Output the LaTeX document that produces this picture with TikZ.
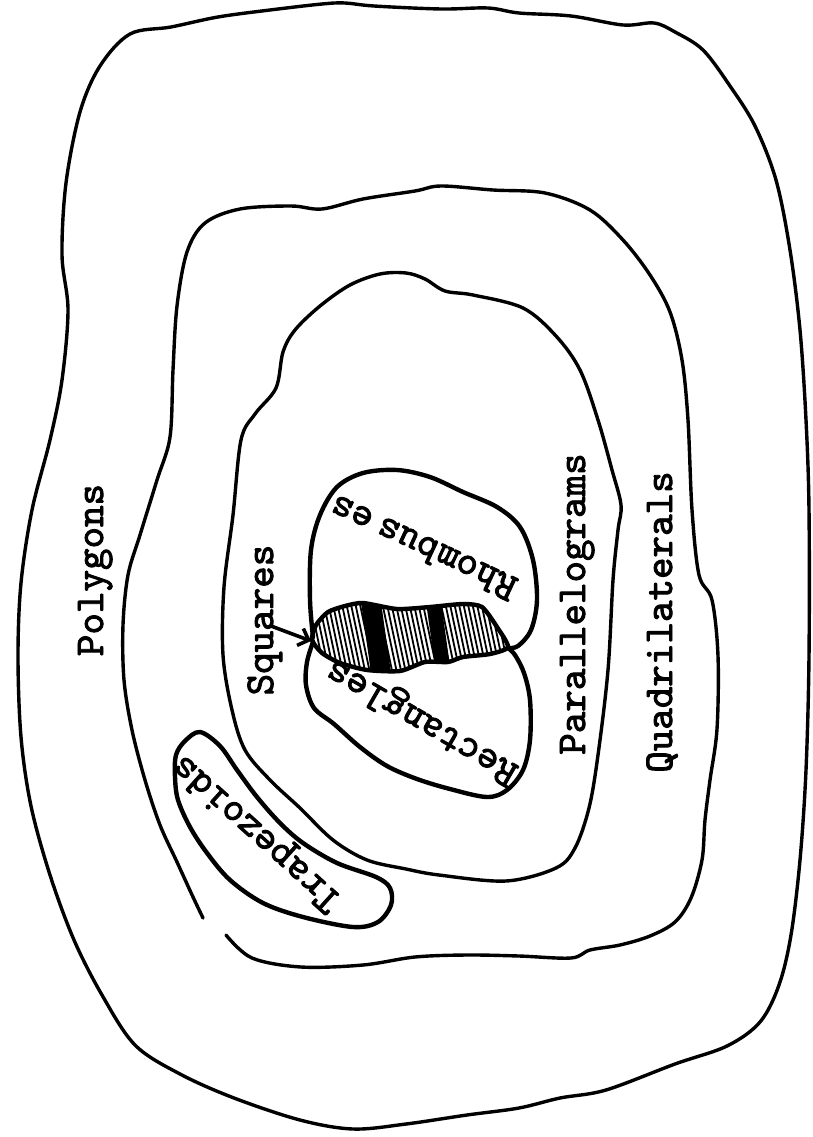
\documentclass[tikz,border=0pt]{standalone}
\usepackage{fontspec}
\newfontfamily\twfont{lmmono10-regular.otf}[FakeBold=2.2]
\usetikzlibrary{arrows.meta}
\begin{document}
\begin{tikzpicture}[x=1pt,y=-1pt,
  rim/.style={line width=3.4pt, line join=round, line cap=round},
  blob/.style={line width=4.4pt, line join=round, line cap=round},
  lab/.style={font=\twfont\fontsize{41}{41}\selectfont, inner sep=0pt},
  hatch/.style={line width=1.8pt}]
\useasboundingbox (0,0) rectangle (812,1137);

% Polygons (outer)
\draw[rim] plot[smooth cycle, tension=0.55] coordinates {
(130,34) (171,27) (218,17) (270,10) (322,4) (345,3) (374,6) (441,9) (488,8) (519,13) (571,16) (623,25) (654,23) (675,32) (703,50) (730,86) (755,126) (776,180) (790,250) (800,330) (806,420) (809,510) (809,656) (806,770) (800,860) (791,935) (779,985) (760,1022) (727,1046) (675,1064) (606,1090) (560,1098) (519,1108) (467,1115) (406,1124) (353,1129) (300,1120) (234,1098) (180,1074) (135,1045) (102,995) (74,940) (50,875) (31,806) (21,737) (18,656) (21,583) (32,510) (50,440) (62,380) (68,310) (62,255) (66,183) (80,112) (100,66)};

% Quadrilaterals (open at lower left)
\draw[rim] plot[smooth, tension=0.55] coordinates {
(203,918) (193,897) (177,862) (160,825) (145,780) (132,730) (124,680) (123,625) (128,575) (140,535) (157,480) (170,437) (173,370) (177,306) (187,252) (205,223) (240,209) (291,206) (322,209) (363,199) (415,191) (441,186) (493,190) (545,193) (590,210) (623,240) (650,275) (670,312) (682,360) (688,420) (692,510) (699,575) (712,600) (718,656) (717,729) (710,780) (705,820) (702,860) (691,898) (675,922) (650,936) (620,945) (590,950) (571,958) (519,956) (467,955) (415,957) (363,965) (301,967) (252,958) (226,935)};

% Parallelograms
\draw[rim] plot[smooth cycle, tension=0.55] coordinates {
(283,352) (295,330) (320,306) (350,285) (380,274) (406,273) (425,279) (445,291) (473,295) (523,308) (556,336) (580,370) (598,420) (612,470) (621,505) (618,530) (613,580) (608,670) (598,755) (589,808) (575,848) (556,868) (506,881) (439,875) (406,869) (367,860) (333,840) (300,808) (270,780) (245,750) (232,710) (223,655) (224,587) (233,515) (241,440) (255,414) (276,388)};

% Squares (hatched overlap)
\begin{scope}
\clip plot[smooth cycle, tension=0.4] coordinates {
(312,640) (316,625) (328,612) (345,606) (363,603) (397,609) (430,607) (463,604) (482,607) (497,627) (508,647) (490,654) (463,657) (448,662) (425,662) (400,671) (367,670) (340,663) (322,653)};
\foreach \x in {304,308.5,...,520} \draw[hatch] (\x-9,595) -- (\x+9,680);
\fill (360,595) -- (380,595) -- (392,680) -- (372,680) -- cycle;
\fill (425,595) -- (440,595) -- (452,680) -- (437,680) -- cycle;
\end{scope}
\draw[blob] plot[smooth cycle, tension=0.4] coordinates {
(312,640) (316,625) (328,612) (345,606) (363,603) (397,609) (430,607) (463,604) (482,607) (497,627) (508,647) (490,654) (463,657) (448,662) (425,662) (400,671) (367,670) (340,663) (322,653)};

% Rhombuses
\draw[blob] plot[smooth, tension=0.55] coordinates {
(313,637) (310,600) (311,550) (320,515) (337,487) (363,473) (397,470) (430,477) (463,492) (497,507) (520,527) (533,560) (537,600) (531,630) (518,646) (508,648)};

% Rectangles
\draw[blob] plot[smooth, tension=0.55] coordinates {
(313,642) (307,662) (306,685) (314,708) (334,724) (360,747) (387,766) (417,779) (450,789) (487,797) (507,790) (523,770) (530,740) (530,700) (524,673) (515,655) (508,648)};

% Trapezoids
\draw[blob] plot[smooth cycle, tension=0.55] coordinates {
(200,732) (185,741) (176,755) (175,777) (178,800) (190,827) (207,853) (230,880) (263,903) (303,917) (353,927) (378,922) (391,905) (390,888) (376,877) (337,863) (303,843) (280,823) (257,797) (237,770) (220,746)};

% Labels
\node[lab, rotate=90, anchor=base] (polygons) at (103,570) {Polygons};
\node[lab, rotate=90, anchor=base] (squares) at (273,620) {Squares};
\node[lab, rotate=90, anchor=base] (parallelograms) at (585,604) {Parallelograms};
\node[lab, rotate=90, anchor=base] (quadrilaterals) at (672,622) {Quadrilaterals};
\node[lab, rotate=155] (rhombuses) at (423,548) {Rhombus\kern.2em es};
\node[lab, rotate=150] (rectangles) at (423,720) {Rectangles};
\node[lab, rotate=138] (trapezoids) at (258,832) {Trapezoids};

% Arrow to squares
\coordinate (arrowtail) at (271,626);
\coordinate (arrowtip) at (311,641);
\draw[line width=3.6pt, line cap=round, -{Straight Barb[length=9pt,width=18pt,line width=3.6pt]}] (arrowtail) -- (arrowtip);
\end{tikzpicture}
\end{document}
